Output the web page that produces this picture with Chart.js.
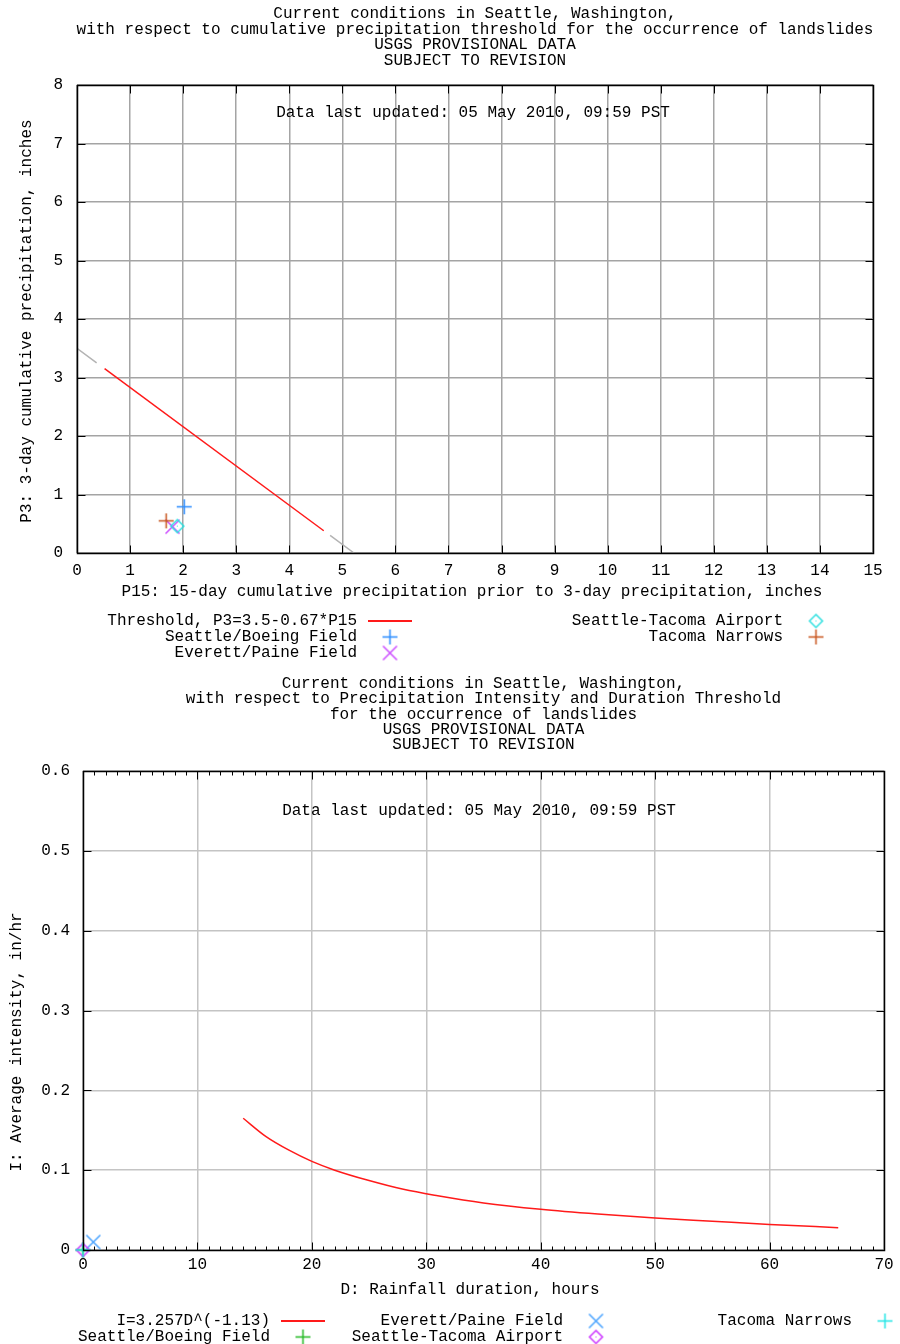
<!DOCTYPE html>
<html>
<head>
<meta charset="utf-8">
<title>Seattle landslide thresholds</title>
<script src="https://cdn.jsdelivr.net/npm/chart.js@4.4.1/dist/chart.umd.min.js"></script>
<style>
  body { margin: 0; background: #fff; }
  canvas { display: block; }
</style>
</head>
<body>
<canvas id="chart" width="900" height="672"></canvas>
<canvas id="chart2" width="900" height="672"></canvas>
<script>
// --- data, chart 1 : P15 / P3
const p15Ticks = [0, 1, 2, 3, 4, 5, 6, 7, 8, 9, 10, 11, 12, 13, 14, 15];
const p3Ticks = [0, 1, 2, 3, 4, 5, 6, 7, 8];
const thresholdP15 = [0.52, 4.65];
const thresholdP3 = [3.15, 0.38];
const extensionP15 = [0, 0.37, 0.45, 4.77, 5.22];
const extensionP3 = [3.5, 3.25, null, 0.30, 0];

const stations = ['Seattle/Boeing Field', 'Everett/Paine Field', 'Seattle-Tacoma Airport', 'Tacoma Narrows'];
const stationP15 = [2.02, 1.80, 1.89, 1.68];
const stationP3 = [0.79, 0.45, 0.46, 0.55];

// --- data, chart 2 : intensity / duration
const durationTicks = [0, 10, 20, 30, 40, 50, 60, 70];
const intensityTicks = [0, 0.1, 0.2, 0.3, 0.4, 0.5, 0.6];
const intensityLabels = ['0', '0.1', '0.2', '0.3', '0.4', '0.5', '0.6'];
const curveHours = [14, 16, 18, 20, 22, 25, 28, 31, 35, 40, 45, 50, 55, 60, 66];
const curveIntensity = [0.165, 0.142, 0.125, 0.111, 0.100, 0.087, 0.076, 0.068, 0.059, 0.051, 0.045, 0.040, 0.036, 0.032, 0.028];
const stationHours = [0, 0.9, 0, 0];
const stationIntensity = [0, 0.010, 0, 0];

const fontName = "'Liberation Mono', 'DejaVu Sans Mono', monospace";
Chart.defaults.font.family = fontName;
Chart.defaults.font.size = 16;
Chart.defaults.color = '#000';

function points(xs, ys) {
  return xs.map((v, i) => ({x: v, y: ys[i]}));
}

// small gnuplot-like markers
function marker(kind, color) {
  const c = document.createElement('canvas');
  c.width = 17; c.height = 17;
  const g = c.getContext('2d');
  g.strokeStyle = color;
  g.fillStyle = color;
  g.lineWidth = 1.5;
  g.beginPath();
  if (kind === 'plus') {
    g.moveTo(1, 8.5); g.lineTo(16, 8.5);
    g.moveTo(8.5, 1); g.lineTo(8.5, 16);
  } else if (kind === 'x') {
    g.moveTo(1.5, 1.5); g.lineTo(15.5, 15.5);
    g.moveTo(15.5, 1.5); g.lineTo(1.5, 15.5);
  } else {
    g.moveTo(8.5, 2); g.lineTo(15, 8.5); g.lineTo(8.5, 15); g.lineTo(2, 8.5); g.closePath();
    g.fillRect(8, 8, 1, 1);
  }
  g.stroke();
  return c;
}

function stationSets(xs, ys, colors, kinds) {
  return stations.map((name, i) => ({
    label: name,
    data: [{x: xs[i], y: ys[i]}],
    pointStyle: marker(kinds[i], colors[i]),
    borderColor: colors[i],
    showLine: false,
    clip: false,
    order: 4 - i
  }));
}

// frame, inward ticks, texts and key drawn like gnuplot
const gnuplotLook = {
  id: 'gnuplotLook',
  afterDraw(chart, args, o) {
    const {ctx, chartArea: a, scales: {x, y}} = chart;
    const L = Math.round(a.left) + 0.5, R = Math.round(a.right) + 0.5;
    const T = Math.round(a.top) + 0.5, B = Math.round(a.bottom) + 0.5;
    ctx.save();
    ctx.strokeStyle = '#000';
    ctx.lineWidth = 1;
    ctx.beginPath();
    x.ticks.forEach(t => {
      const px = Math.round(x.getPixelForValue(t.value)) + 0.5;
      ctx.moveTo(px, B); ctx.lineTo(px, B - 8);
      ctx.moveTo(px, T); ctx.lineTo(px, T + 8);
    });
    y.ticks.forEach(t => {
      const py = Math.round(y.getPixelForValue(t.value)) + 0.5;
      ctx.moveTo(L, py); ctx.lineTo(L + 8, py);
      ctx.moveTo(R, py); ctx.lineTo(R - 8, py);
    });
    if (o.minorX) {
      const n = Math.round((x.max - x.min) / o.minorX);
      for (let i = 0; i <= n; i++) {
        const px = Math.round(x.getPixelForValue(x.min + i * o.minorX)) + 0.5;
        ctx.moveTo(px, B); ctx.lineTo(px, B - 4);
        ctx.moveTo(px, T); ctx.lineTo(px, T + 4);
      }
    }
    ctx.stroke();
    ctx.lineWidth = 1.5;
    ctx.strokeRect(L, T, R - L, B - T);

    ctx.fillStyle = '#000';
    ctx.font = '16px ' + fontName;
    ctx.textBaseline = 'middle';
    ctx.textAlign = 'center';
    const cx = (a.left + a.right) / 2;
    o.title.forEach((line, i) => ctx.fillText(line, cx, o.titleY + i * o.titleStep));
    ctx.fillText(o.note, o.noteX, o.noteY);
    ctx.fillText(o.xTitle, o.xTitleX, o.xTitleY);
    ctx.save();
    ctx.translate(o.yTitleX, o.yTitleY);
    ctx.rotate(-Math.PI / 2);
    ctx.fillText(o.yTitle, 0, 0);
    ctx.restore();

    // key
    chart.data.datasets.forEach((ds, i) => {
      const slot = o.key[i];
      if (!slot) return;
      ctx.textAlign = 'right';
      ctx.fillText(ds.label, slot[0], slot[1]);
      const mx = slot[0] + 33;
      if (ds.showLine === false) {
        ctx.drawImage(ds.pointStyle, mx - 8.5, slot[1] - 8.5);
      } else {
        ctx.strokeStyle = ds.borderColor;
        ctx.lineWidth = 2;
        ctx.beginPath();
        ctx.moveTo(mx - 22, slot[1]); ctx.lineTo(mx + 22, slot[1]);
        ctx.stroke();
      }
    });
    ctx.restore();
  }
};

function fixedTicks(values, labels) {
  return {
    afterBuildTicks(scale) { scale.ticks = values.map(v => ({value: v})); },
    callback: (v, i) => labels ? labels[i] : String(values[i])
  };
}

const ctx = document.getElementById('chart');
const p15T = fixedTicks(p15Ticks);
const p3T = fixedTicks(p3Ticks);
new Chart(ctx, {
  type: 'scatter',
  data: {
    datasets: [{
      label: 'Threshold, P3=3.5-0.67*P15',
      data: points(thresholdP15, thresholdP3),
      showLine: true,
      borderColor: '#ff1a1a',
      borderWidth: 1.5,
      pointRadius: 0,
      order: 5
    },
    ...stationSets(stationP15, stationP3, ['#2b8cff', '#cc4dff', '#2ee0e0', '#c8561e'], ['plus', 'x', 'diamond', 'plus']),
    {
      label: 'extension',
      data: points(extensionP15, extensionP3),
      showLine: true,
      spanGaps: false,
      borderColor: '#b4b4b4',
      borderWidth: 1.5,
      pointRadius: 0,
      order: 6
    }]
  },
  options: {
    responsive: false,
    animation: false,
    layout: { padding: { left: 0, top: 85, right: 27, bottom: 0 } },
    plugins: {
      legend: { display: false },
      tooltip: { enabled: false },
      gnuplotLook: {
        title: ['Current conditions in Seattle, Washington,',
                'with respect to cumulative precipitation threshold for the occurrence of landslides',
                'USGS PROVISIONAL DATA',
                'SUBJECT TO REVISION'],
        titleY: 14, titleStep: 15.5,
        note: 'Data last updated: 05 May 2010, 09:59 PST', noteX: 473, noteY: 113,
        xTitle: 'P15: 15-day cumulative precipitation prior to 3-day precipitation, inches', xTitleX: 472, xTitleY: 592,
        yTitle: 'P3: 3-day cumulative precipitation, inches', yTitleX: 27, yTitleY: 321,
        key: [[357, 621], [357, 637], [357, 653], [783, 621], [783, 637]]
      }
    },
    scales: {
      x: {
        type: 'linear', min: 0, max: 15,
        afterBuildTicks: p15T.afterBuildTicks,
        afterFit(s) { s.height = 119; },
        ticks: { callback: p15T.callback, padding: 8, maxRotation: 0, autoSkip: false },
        grid: { color: '#a4a4a4', lineWidth: 1.5, drawTicks: false },
        border: { display: false }
      },
      y: {
        type: 'linear', min: 0, max: 8,
        afterBuildTicks: p3T.afterBuildTicks,
        afterFit(s) { s.width = 77; },
        ticks: { callback: p3T.callback, padding: 14, autoSkip: false },
        grid: { color: '#a4a4a4', lineWidth: 1.5, drawTicks: false },
        border: { display: false }
      }
    }
  },
  plugins: [gnuplotLook]
});

const ctx2 = document.getElementById('chart2');
const durT = fixedTicks(durationTicks);
const intT = fixedTicks(intensityTicks, intensityLabels);
new Chart(ctx2, {
  type: 'scatter',
  data: {
    datasets: [{
      label: 'I=3.257D^(-1.13)',
      data: points(curveHours, curveIntensity),
      showLine: true,
      cubicInterpolationMode: 'monotone',
      borderColor: '#ff1a1a',
      borderWidth: 1.5,
      pointRadius: 0,
      order: 5
    },
    ...stationSets(stationHours, stationIntensity, ['#22b822', '#4aa3ff', '#cc33ff', '#22e5e5'], ['plus', 'x', 'diamond', 'plus'])]
  },
  options: {
    responsive: false,
    animation: false,
    layout: { padding: { left: 0, top: 99, right: 16, bottom: 0 } },
    plugins: {
      legend: { display: false },
      tooltip: { enabled: false },
      gnuplotLook: {
        title: ['Current conditions in Seattle, Washington,',
                'with respect to Precipitation Intensity and Duration Threshold',
                'for the occurrence of landslides',
                'USGS PROVISIONAL DATA',
                'SUBJECT TO REVISION'],
        titleY: 12, titleStep: 15.2,
        note: 'Data last updated: 05 May 2010, 09:59 PST', noteX: 479, noteY: 139,
        xTitle: 'D: Rainfall duration, hours', xTitleX: 470, xTitleY: 618,
        yTitle: 'I: Average intensity, in/hr', yTitleX: 17, yTitleY: 370,
        minorX: 1,
        key: [[270, 649], [270, 665], [563, 649], [563, 665], [852, 649]]
      }
    },
    scales: {
      x: {
        type: 'linear', min: 0, max: 70,
        afterBuildTicks: durT.afterBuildTicks,
        afterFit(s) { s.height = 94; },
        ticks: { callback: durT.callback, padding: 5, maxRotation: 0, autoSkip: false },
        grid: { color: '#c4c4c4', lineWidth: 1.5, drawTicks: false },
        border: { display: false }
      },
      y: {
        type: 'linear', min: 0, max: 0.6,
        afterBuildTicks: intT.afterBuildTicks,
        afterFit(s) { s.width = 83; },
        ticks: { callback: intT.callback, padding: 13, autoSkip: false },
        grid: { color: '#c4c4c4', lineWidth: 1.5, drawTicks: false },
        border: { display: false }
      }
    }
  },
  plugins: [gnuplotLook]
});
</script>
</body>
</html>
